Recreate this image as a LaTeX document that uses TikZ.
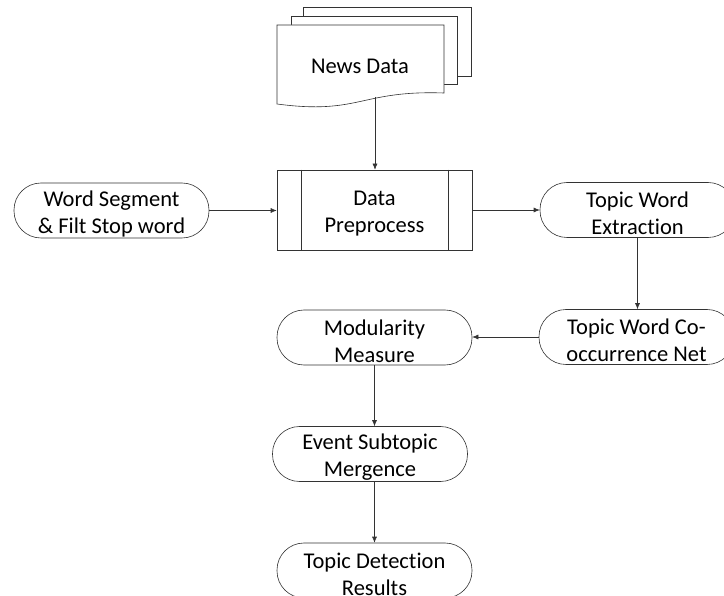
\documentclass[tikz,border=0pt]{standalone}
\usepackage{fontspec}
\setmainfont{Carlito}[Ligatures=NoCommon]
\usetikzlibrary{arrows.meta}
\begin{document}
\begin{tikzpicture}[x=1pt,y=-1pt,
  line/.style={draw=black!80,line width=0.6pt},
  txt/.style={font=\fontsize{22.5}{27}\selectfont},
  boxtext/.style={label={[txt,align=center,yshift=-3.5pt]center:{#1}}},
  term/.style={line,rounded corners=27pt,minimum width=195pt,minimum height=55pt,
    inner sep=0pt,boxtext={#1}},
  flow/.style={line,-{Latex[length=6pt,width=5pt]}},
  docbox/.style={line,fill=white}]
\useasboundingbox (0,0) rectangle (724,596);
\clip (0,0) rectangle (724,596);
% stacked documents
\draw[docbox] (303,7) rectangle (471,76);
\draw[docbox] (291,16) rectangle (457,84);
\draw[docbox] (277,25) -- (444,25) -- (444,93)
  .. controls (360,90) and (360,115) .. (277,104) -- cycle;
\node[txt] (news) at (360,66) {News Data};
\coordinate (newsout) at (375,97);
% predefined process
\node[line,minimum width=195pt,minimum height=80pt,inner sep=0pt,
  boxtext={Data\\Preprocess}] (data) at (374.5,210) {};
\draw[line] ([xshift=25pt]data.north west) -- ([xshift=25pt]data.south west);
\draw[line] ([xshift=-24pt]data.north east) -- ([xshift=-24pt]data.south east);
% terminals
\node[term={Word Segment\\\& Filt Stop word}] (word) at (111.5,210.5) {};
\node[term={Topic Word\\Extraction}] (ext) at (637.5,210) {};
\node[term={Topic Word Co-\\occurrence Net}] (cooc) at (636.5,337) {};
\node[term={Modularity\\Measure}] (mod) at (374.5,337.5) {};
\node[term={Event Subtopic\\Mergence}] (event) at (370,454) {};
\node[term={Topic Detection\\Results}] (res) at (374.5,570.5) {};
% connectors
\draw[flow] (newsout) -- (newsout |- data.north);
\draw[flow] (word.east) -- (word.east -| data.west);
\draw[flow] (ext.west -| data.east) -- (ext.west);
\draw[flow] (ext.south) -- (ext.south |- cooc.north);
\draw[flow] (cooc.west) -- (cooc.west -| mod.east);
\draw[flow] (mod.south) -- (mod.south |- event.north);
\draw[flow] (res.north |- event.south) -- (res.north);
\end{tikzpicture}
\end{document}
